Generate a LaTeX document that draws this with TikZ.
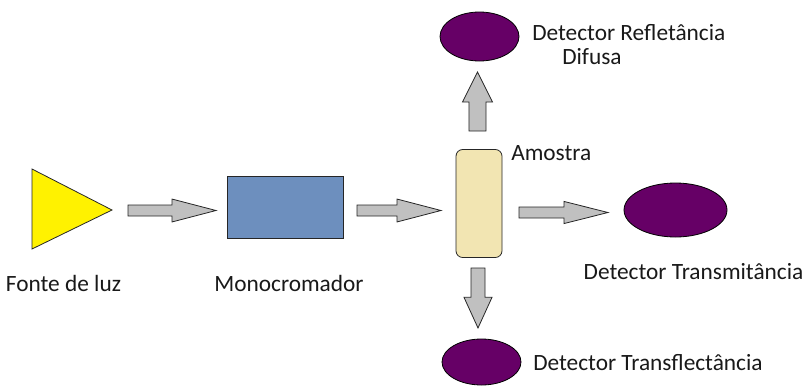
\documentclass[tikz,border=0pt]{standalone}
\usepackage{fontspec}
\setmainfont{Carlito}
\usetikzlibrary{calc,shapes.geometric}
\definecolor{arrowgray}{HTML}{C0C0C0}
\definecolor{srcyellow}{HTML}{FFF200}
\definecolor{monoblue}{HTML}{6D8FBE}
\definecolor{samplebeige}{HTML}{F2E5B2}
\definecolor{detpurple}{HTML}{660066}
\tikzset{
  lbl/.style={font=\fontsize{17.5}{20}\selectfont, inner sep=0pt, text=black!90},
  detector/.style={ellipse, draw=black, line width=0.6pt, fill=detpurple, inner sep=0pt},
  blockarrow/.style n args={3}{draw=black!85, fill=arrowgray, line width=0.6pt, line join=miter,
    to path={let \p1=($(\tikztotarget)-(\tikztostart)$), \n1={atan2(\y1,\x1)} in
      -- ($(\tikztostart)+(\n1+90:#1)$)
      -- ($(\tikztotarget)!#3!(\tikztostart)+(\n1+90:#1)$)
      -- ($(\tikztotarget)!#3!(\tikztostart)+(\n1+90:#2)$)
      -- (\tikztotarget)
      -- ($(\tikztotarget)!#3!(\tikztostart)+(\n1-90:#2)$)
      -- ($(\tikztotarget)!#3!(\tikztostart)+(\n1-90:#1)$)
      -- ($(\tikztostart)+(\n1-90:#1)$)
      -- cycle}}
}
\begin{document}
\begin{tikzpicture}[x=0.75pt,y=-0.75pt]
\useasboundingbox (0,0) rectangle (806,386);
% source
\coordinate (t1) at (32,169);
\coordinate (t2) at (32,249);
\coordinate (t3) at (112,210);
\draw[fill=srcyellow, draw=black!85, line width=0.6pt] (t1) -- (t3) -- (t2) -- cycle;
\node[lbl] (srclbl) at (63.5,283) {Fonte de luz};
% monochromator
\node[draw=black!85, line width=0.6pt, fill=monoblue, minimum width=116*0.75pt, minimum height=62*0.75pt, inner sep=0pt] (mono) at (285,207) {};
\node[lbl] (monolbl) at (289,283) {Monocromador};
% sample
\node[draw=black!85, line width=0.6pt, fill=samplebeige, rounded corners=5pt, minimum width=46*0.75pt, minimum height=108*0.75pt, inner sep=0pt] (sample) at (479,203.5) {};
\node[lbl, anchor=west] (samplelbl) at (511,153) {Amostra};
% detectors
\node[detector, minimum width=79*0.75pt, minimum height=49*0.75pt] (dref) at (479.5,36.5) {};
\node[lbl, anchor=west] (dreflbl) at (532,33) {Detector Refletância};
\node[lbl, anchor=west] (dreflbl2) at (562,57) {Difusa};
\node[detector, minimum width=103*0.75pt, minimum height=54*0.75pt] (dtra) at (675.5,210) {};
\node[lbl] (dtralbl) at (693.5,272) {Detector Transmitância};
\node[detector, minimum width=79*0.75pt, minimum height=46*0.75pt] (dtrf) at (481.5,362) {};
\node[lbl, anchor=west] (dtrflbl) at (533,363) {Detector Transflectância};
% arrows
\coordinate (a1s) at (128,210.5); \coordinate (a1t) at (216,210.5);
\coordinate (a2s) at (357,210.5); \coordinate (a2t) at (441,210.5);
\coordinate (a3s) at (519,212.5); \coordinate (a3t) at (608,212.5);
\coordinate (a4s) at (477.5,131); \coordinate (a4t) at (477.5,72);
\coordinate (a5s) at (478,268); \coordinate (a5t) at (478,328);
\draw[blockarrow={4.125pt}{8.6pt}{33pt}] (a1s) to (a1t);
\draw[blockarrow={4.125pt}{8.6pt}{33pt}] (a2s) to (a2t);
\draw[blockarrow={4.125pt}{8.3pt}{33pt}] (a3s) to (a3t);
\draw[blockarrow={6.4pt}{11.25pt}{22.5pt}] (a4s) to (a4t);
\draw[blockarrow={5.25pt}{10.5pt}{23pt}] (a5s) to (a5t);
\end{tikzpicture}
\end{document}
